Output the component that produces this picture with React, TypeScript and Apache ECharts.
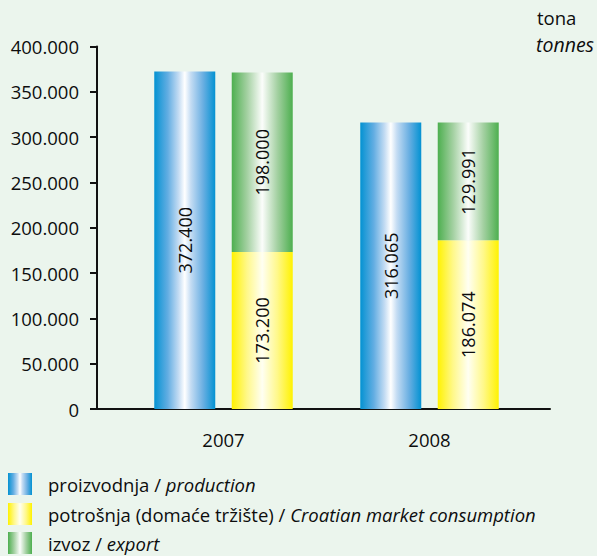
import React, { useEffect, useRef } from "react";
import * as echarts from "echarts";

const categories = ["2007", "2008"];
const production = [372400, 316065];
const consumption = [173200, 186074];
const exportVals = [198000, 129991];
const yTicks = { min: 0, max: 400000, interval: 50000 };
const legendNames = ["proizvodnja / production", "potrošnja (domaće tržište) / Croatian market consumption", "izvoz / export"];

const fmt = (v: number) => String(v).replace(/\B(?=(\d{3})+(?!\d))/g, ".");
const FONT = "'Open Sans', sans-serif";
const TXT = "#0d0d0d";

export default function App() {
  const ref = useRef<HTMLDivElement>(null);
  useEffect(() => {
    document.body.style.margin = "0";
    const chart = echarts.init(ref.current!, null, { renderer: "svg" });
    const blue = new echarts.graphic.LinearGradient(0, 0, 1, 0, [
      { offset: 0, color: "#0392d2" },
      { offset: 0.22, color: "#62ade2" },
      { offset: 0.4, color: "#c4dcf3" },
      { offset: 0.5, color: "#ffffff" },
      { offset: 0.6, color: "#c4dcf3" },
      { offset: 0.8, color: "#6aafe2" },
      { offset: 1, color: "#0392d2" },
    ]);
    const yellow = new echarts.graphic.LinearGradient(0, 0, 1, 0, [
      { offset: 0, color: "#fff200" },
      { offset: 0.25, color: "#fff88a" },
      { offset: 0.5, color: "#fffff2" },
      { offset: 0.75, color: "#fff88a" },
      { offset: 1, color: "#fff200" },
    ]);
    const green = new echarts.graphic.LinearGradient(0, 0, 1, 0, [
      { offset: 0, color: "#4daf4f" },
      { offset: 0.25, color: "#a3d0a1" },
      { offset: 0.5, color: "#fbfdfb" },
      { offset: 0.75, color: "#a3d0a1" },
      { offset: 1, color: "#4daf4f" },
    ]);
    const label = {
      show: true,
      position: "inside",
      rotate: 90,
      formatter: (p: any) => fmt(p.value),
      fontFamily: FONT,
      fontSize: 18,
      color: TXT,
    };
    const rich = {
      n: { fontFamily: FONT, fontSize: 18.5, color: TXT },
      i: { fontFamily: FONT, fontSize: 18.5, color: TXT, fontStyle: "italic" },
    };
    const legendTops = [473, 503, 532];
    const legends = legendNames.map((nm, i) => ({
      orient: "vertical",
      left: 8,
      top: legendTops[i],
      padding: 0,
      itemWidth: 24,
      itemHeight: 22,
      icon: "rect",
      data: [nm],
      formatter: (name: string) => {
        const k = name.indexOf(" / ");
        return `{n|${name.slice(0, k + 3)}}{i|${name.slice(k + 3)}}`;
      },
      textStyle: { padding: [0, 0, 0, 11], rich },
      selectedMode: false,
    }));
    chart.setOption({
      animation: false,
      backgroundColor: "#ebf5ed",
      grid: [
        { left: 97, right: 47, top: 46.5, bottom: 147 },
        { left: 120.5, right: 64.5, top: 46.5, bottom: 147 },
      ],
      xAxis: [
        {
          type: "category",
          gridIndex: 0,
          data: categories,
          axisLine: { lineStyle: { color: "#111", width: 2 } },
          axisTick: { show: false },
          axisLabel: { show: false },
        },
        {
          type: "category",
          gridIndex: 1,
          data: categories,
          axisLine: { show: false },
          axisTick: { show: false },
          axisLabel: { margin: 21, fontFamily: FONT, fontSize: 18.5, color: TXT },
        },
      ],
      yAxis: [
        {
          type: "value",
          gridIndex: 0,
          ...yTicks,
          axisLine: { show: true, lineStyle: { color: "#111", width: 2 } },
          axisTick: { show: true, length: 7, lineStyle: { color: "#111", width: 2 } },
          splitLine: { show: false },
          axisLabel: { margin: 18, fontFamily: FONT, fontSize: 18.5, color: TXT, formatter: (v: number) => fmt(v) },
        },
        {
          type: "value",
          gridIndex: 1,
          ...yTicks,
          show: false,
          splitLine: { show: false },
        },
      ],
      legend: legends,
      graphic: [
        { type: "text", left: 537, top: 8, style: { text: "tona", font: `18.5px ${FONT}`, fill: TXT } },
        { type: "text", left: 536, top: 34, style: { text: "tonnes", font: `italic 19.5px ${FONT}`, fill: TXT } },
      ],
      series: [
        {
          name: legendNames[0],
          type: "bar",
          xAxisIndex: 1,
          yAxisIndex: 1,
          data: production,
          barWidth: 61,
          barGap: "27%",
          itemStyle: { color: blue },
          label,
        },
        {
          name: legendNames[1],
          type: "bar",
          xAxisIndex: 1,
          yAxisIndex: 1,
          stack: "s",
          data: consumption,
          barWidth: 61,
          itemStyle: { color: yellow },
          label,
        },
        {
          name: legendNames[2],
          type: "bar",
          xAxisIndex: 1,
          yAxisIndex: 1,
          stack: "s",
          data: exportVals,
          barWidth: 61,
          itemStyle: { color: green },
          label,
        },
      ],
    });
    return () => chart.dispose();
  }, []);
  return <div ref={ref} style={{ width: 597, height: 556 }} />;
}
